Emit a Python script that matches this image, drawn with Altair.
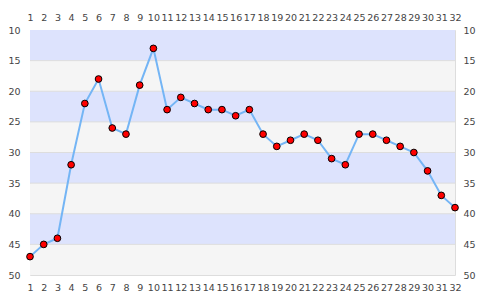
import altair as alt
import pandas as pd

xs = list(range(1, 33))
ys = [47, 45, 44, 32, 22, 18, 26, 27, 19, 13, 23, 21, 22, 23, 23, 24, 23, 27, 29, 28,
      27, 28, 31, 32, 27, 27, 28, 29, 30, 33, 37, 39]
band_start = [10, 15, 20, 25, 30, 35, 40, 45]
band_end = [15, 20, 25, 30, 35, 40, 45, 50]
band_color = ["#dde3fd", "#f5f5f5"] * 4
y_ticks = [10, 15, 20, 25, 30, 35, 40, 45, 50]

df = pd.DataFrame({"x": xs, "y": ys})
bands = pd.DataFrame({"y": band_start, "y2": band_end, "c": band_color,
                      "x": [1] * 8, "x2": [32] * 8})

xscale = alt.Scale(domain=[1, 32], nice=False, zero=False)
yscale = alt.Scale(domain=[10, 50], reverse=True, nice=False, zero=False)

lab = dict(labelFont="DejaVu Sans", labelFontSize=9.5, labelColor="#444444",
           ticks=False, domain=False, title=None, grid=False,
           labelOverlap=False, labelBound=False, labelFlush=False)

band_layer = alt.Chart(bands).mark_rect().encode(
    x=alt.X("x:Q", scale=xscale, axis=alt.Axis(orient="bottom", values=xs, labelPadding=7, **lab)),
    x2="x2",
    y=alt.Y("y:Q", scale=yscale, axis=alt.Axis(orient="left", values=y_ticks, labelPadding=10, **lab)),
    y2="y2",
    color=alt.Color("c:N", scale=None),
)

grid = alt.Chart(pd.DataFrame({"y": band_start[1:]})).mark_rule(color="#dddddd", strokeWidth=1).encode(
    y=alt.Y("y:Q", scale=yscale, axis=alt.Axis(orient="right", values=y_ticks, labelPadding=8, **lab)),
)

axes_top = alt.Chart(df).mark_point(opacity=0).encode(
    x=alt.X("x:Q", scale=xscale, axis=alt.Axis(orient="top", values=xs, labelPadding=8, **lab)),
)

line = alt.Chart(df).mark_line(color="#74b5f5", strokeWidth=2).encode(
    x=alt.X("x:Q", scale=xscale, axis=None),
    y=alt.Y("y:Q", scale=yscale, axis=None),
)
pts = alt.Chart(df).mark_point(filled=True, fill="#ff0000", stroke="#000000", strokeWidth=1,
                               size=45, opacity=1, fillOpacity=1).encode(
    x=alt.X("x:Q", scale=xscale, axis=None),
    y=alt.Y("y:Q", scale=yscale, axis=None),
)

chart = alt.layer(band_layer, grid, axes_top, line, pts).resolve_axis(
    x="independent", y="independent"
).properties(
    width=425, height=245,
    autosize=alt.AutoSizeParams(type="none"),
    padding={"left": 30, "top": 30, "right": 30, "bottom": 25},
).configure_view(stroke="#d8d8d8", strokeWidth=1).configure(background="white")

chart.save("out.html", embed_options={"renderer": "svg", "actions": False})
